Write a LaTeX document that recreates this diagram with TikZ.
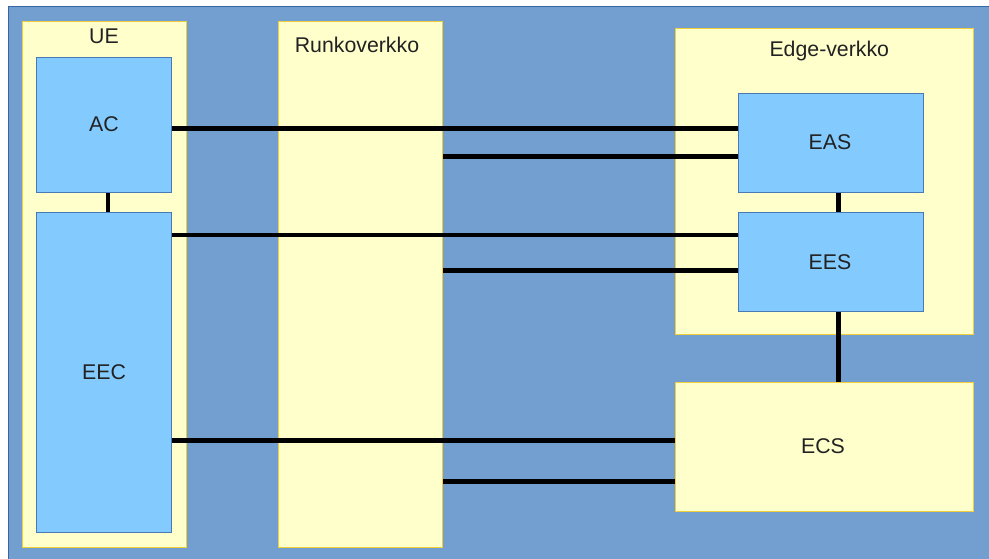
\documentclass[tikz,border=0pt]{standalone}
\usepackage{fontspec}
\setmainfont{Liberation Sans}
\definecolor{bgblue}{HTML}{729FCF}
\definecolor{bgedge}{HTML}{3465A4}
\definecolor{paleyellow}{HTML}{FFFFCC}
\definecolor{goldline}{HTML}{F0CF3A}
\definecolor{skyblue}{HTML}{83CAFF}
\definecolor{boxline}{HTML}{4A7AB5}
\definecolor{inktext}{HTML}{222222}
\tikzset{
  area/.style={draw=goldline, line width=1.3pt, fill=paleyellow, inner sep=0pt, anchor=north west},
  unit/.style={draw=boxline, line width=1.2pt, fill=skyblue, inner sep=0pt, anchor=north west},
  label text/.style={text=inktext, font=\fontsize{21.3}{25}\selectfont, inner sep=0pt},
  link/.style={line width=4.6pt, black},
}
\begin{document}
\begin{tikzpicture}[x=1pt, y=-1pt]
\useasboundingbox (0,0) rectangle (989,559);
% backdrop
\fill[white] (0,0) rectangle (989,559);
\fill[bgblue] (8,7) rectangle (989,559);
\draw[bgedge, line width=1pt] (8,559) -- (8,7) -- (989,7);

% containers
\node[area, minimum width=164pt, minimum height=526pt] (ue) at (22,21) {};
\node[area, minimum width=164pt, minimum height=526pt] (runko) at (278,21) {};
\node[area, minimum width=298pt, minimum height=306pt] (edge) at (675,28) {};
\node[area, minimum width=298pt, minimum height=129pt] (ecs) at (675,382) {};

\node[label text] (uetitle) at (104,36.7) {UE};
\node[label text] (runkotitle) at (357,44.7) {Runkoverkko};
\node[label text] (edgetitle) at (829.3,51.3) {Edge-verkko};
\node[label text] (ecstitle) at (823,446.3) {ECS};

% functional units
\node[unit, minimum width=135pt, minimum height=135pt] (ac) at (36,57) {};
\node[unit, minimum width=135pt, minimum height=320pt] (eec) at (36,212) {};
\node[unit, minimum width=185pt, minimum height=99pt] (eas) at (738,93) {};
\node[unit, minimum width=185pt, minimum height=99pt] (ees) at (738,212) {};

\node[label text] (actitle) at (104,123.7) {AC};
\node[label text] (eectitle) at (104,372) {EEC};
\node[label text] (eastitle) at (830,141.7) {EAS};
\node[label text] (eestitle) at (830,262.5) {EES};

% links
\draw[link] (ac.east |- 0,128.5) -- (eas.west |- 0,128.5);
\draw[link] (runko.east |- 0,156.5) -- (eas.west |- 0,156.5);
\draw[link] (eec.east |- 0,235) -- (ees.west |- 0,235);
\draw[link] (runko.east |- 0,270.5) -- (ees.west |- 0,270.5);
\draw[link] (eec.east |- 0,440.5) -- (ecs.west |- 0,440.5);
\draw[link] (runko.east |- 0,481.5) -- (ecs.west |- 0,481.5);

\draw[link] (ac.south -| 108,0) -- (eec.north -| 108,0);
\draw[link] (eas.south -| 838.5,0) -- (ees.north -| 838.5,0);
\draw[link] (ees.south -| 838.5,0) -- (ecs.north -| 838.5,0);
\end{tikzpicture}
\end{document}
